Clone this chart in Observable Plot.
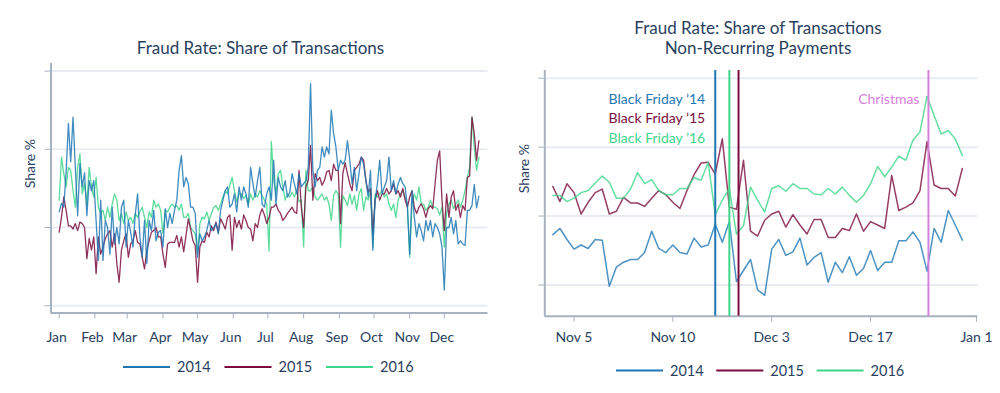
<!DOCTYPE html>
<html><head><meta charset="utf-8">
<script src="https://cdn.jsdelivr.net/npm/d3@7"></script>
<script src="https://cdn.jsdelivr.net/npm/@observablehq/plot@0.6"></script>
<style>
body{margin:0;background:#fff;}
#wrap{display:flex;width:1000px;height:393px;overflow:hidden;}
#wrap svg{flex:none;}
</style></head>
<body><div id="wrap"></div>
<script>
// ---------- shared ----------
const years = ["2014", "2015", "2016"];
const yearColors = ["#1f77b4", "#7b0e3e", "#3fd68a"];
const gridValues = [1, 2, 3, 4];

// ---------- left chart: daily fraud rate, sampled every 2nd day from Jan 1 ----------
const monthStarts = [0, 31, 59, 90, 120, 151, 181, 212, 243, 273, 304, 334];
const monthLabels = ["Jan","Feb","Mar","Apr","May","Jun","Jul","Aug","Sep","Oct","Nov","Dec"];
const sampleStepDays = 2;
const rate2014 = [
2.20,2.31,2.26,2.71,3.33,2.84,3.41,2.77,2.15,2.82,2.52,2.70,2.15,2.60,2.47,2.60,2.09,1.58,2.35,1.58,2.09,2.00,1.66,2.26,1.79,2.00,1.79,2.26,2.35,1.75,2.09,1.94,1.75,2.17,2.43,1.88,1.62,2.09,1.54,2.09,1.96,2.22,1.83,1.94,
1.96,1.75,2.24,2.00,2.18,2.05,2.22,2.35,2.73,2.92,2.52,2.64,2.56,2.26,2.26,2.18,1.62,1.92,1.83,1.88,1.96,2.09,1.96,2.00,2.05,1.92,2.22,2.35,2.47,2.52,2.26,2.30,2.43,2.20,2.52,2.35,2.52,2.43,2.26,2.77,2.56,2.39,2.60,2.77,2.30,2.26,2.43,2.52,2.35,
2.86,2.30,2.64,2.52,2.47,2.60,2.39,2.45,2.69,2.56,2.43,2.69,2.52,2.56,2.60,2.77,3.84,2.73,2.52,2.73,2.77,3.03,2.90,3.03,2.94,3.50,3.20,3.03,2.73,2.86,2.81,2.86,3.11,2.86,2.56,2.77,2.47,2.69,2.90,2.81,2.60,2.39,2.73,1.71,2.35,2.56,2.86,
2.43,2.52,2.60,2.90,2.47,2.60,2.43,2.56,2.64,2.56,2.52,2.26,1.66,2.47,2.13,1.88,2.05,1.96,1.83,2.09,1.96,2.09,1.88,2.05,2.00,1.92,1.75,1.20,2.00,2.00,2.13,1.92,2.09,1.79,1.83,1.79,1.77,2.22,2.22,2.28,2.55,2.25,2.40];
const rate2015 = [
1.94,2.13,2.39,2.22,2.02,2.02,1.98,2.05,1.96,2.07,2.05,2.00,1.60,1.86,1.71,1.88,1.41,1.88,1.66,1.75,1.86,1.92,1.96,1.75,1.92,1.54,1.30,1.71,1.83,1.92,1.62,1.79,1.83,1.96,1.81,1.79,1.62,1.47,1.71,1.83,1.94,1.96,2.00,1.88,
1.88,1.66,1.49,1.79,1.81,1.81,1.81,1.90,1.75,1.88,1.69,1.90,2.11,1.98,1.83,1.77,1.30,1.75,1.83,1.81,1.94,1.88,2.02,1.96,2.07,1.94,2.11,2.05,1.98,2.13,2.16,1.71,2.13,2.00,2.09,1.98,2.16,2.09,2.00,1.98,1.83,2.05,2.00,2.16,2.24,2.16,2.05,2.13,2.26,
2.26,2.30,2.22,2.18,2.09,2.13,2.18,2.22,2.26,2.20,2.18,2.73,2.26,2.00,2.52,2.60,3.05,2.35,2.69,2.60,2.64,2.54,2.60,2.71,2.73,2.60,2.81,2.73,2.73,2.05,2.69,2.83,2.69,2.56,2.47,2.73,2.77,2.81,2.90,2.86,2.60,2.45,2.50,1.92,2.35,2.47,2.35,
2.43,2.43,2.50,2.43,2.47,2.56,2.43,2.47,2.39,2.50,2.35,2.26,2.39,2.47,2.26,2.18,2.26,2.30,2.24,2.13,2.24,2.28,2.24,2.56,2.86,2.98,2.35,1.96,2.43,2.13,2.39,2.47,2.22,2.30,2.13,2.28,2.22,2.64,2.66,3.41,3.20,2.86,3.11];
const rate2016 = [
2.35,2.90,2.69,2.52,2.77,2.73,2.47,2.26,2.77,2.94,2.43,2.56,2.30,2.77,2.52,2.39,2.64,2.26,2.18,2.22,2.09,2.26,2.13,2.30,2.43,2.35,2.09,2.18,2.05,2.20,2.09,2.13,2.05,2.18,2.13,2.20,2.26,2.13,2.00,2.20,2.13,2.35,2.26,2.30,
2.22,1.92,2.22,2.20,2.26,2.30,2.26,2.28,2.22,2.30,2.13,2.13,2.18,2.00,1.96,1.92,1.66,2.05,2.13,2.11,2.20,2.09,2.18,2.26,2.28,2.22,2.30,2.39,2.47,2.43,2.54,2.64,2.47,2.33,2.43,2.43,2.37,2.41,2.30,2.43,2.35,2.43,2.39,2.47,2.41,2.35,2.30,1.70,3.10,
2.60,2.43,2.69,2.73,2.52,2.35,2.43,2.39,2.45,2.39,2.47,2.33,2.35,1.75,2.73,2.47,2.47,2.52,2.39,2.35,2.39,2.43,2.35,2.39,2.30,2.09,2.41,2.47,2.43,1.75,2.41,2.35,2.28,2.43,2.30,2.41,2.22,2.43,2.50,2.22,2.39,2.35,2.47,1.75,2.43,2.39,2.43,
2.47,2.39,2.43,2.30,2.22,2.30,2.13,2.35,2.43,2.47,2.39,2.30,1.62,2.30,2.43,2.35,2.52,2.30,2.30,2.22,2.26,2.35,2.26,2.26,2.24,2.16,2.26,1.75,2.18,2.30,2.35,2.24,2.30,2.35,2.26,2.35,2.47,2.64,2.77,3.41,3.03,2.73,2.90];

// ---------- right chart: non-recurring payments, daily Nov 2 .. Dec 30 (day 0 = Nov 1) ----------
const nrFirstDay = 1;
const nr2014 = [1.73,1.82,1.66,1.52,1.58,1.53,1.66,1.65,0.98,1.26,1.33,1.37,1.37,1.47,1.78,1.53,1.47,1.58,1.47,1.45,1.68,1.55,1.58,1.88,1.62,1.92,1.05,1.21,1.37,0.93,0.85,1.52,1.66,1.43,1.48,1.68,1.29,1.40,1.47,1.04,1.33,1.18,1.41,1.14,1.24,1.50,1.21,1.33,1.33,1.64,1.64,1.77,1.62,1.20,1.82,1.62,2.08,1.87,1.65];
const nr2015 = [2.43,2.21,2.47,2.34,2.03,2.20,2.34,2.39,2.03,2.07,2.27,2.19,2.19,2.14,2.26,2.37,2.31,2.20,2.11,2.37,2.60,2.77,2.78,2.61,3.12,2.13,2.10,2.81,1.78,1.71,1.94,2.03,2.07,1.84,2.02,1.87,1.74,1.95,1.95,1.69,1.69,1.82,1.79,2.03,1.78,1.92,1.87,1.82,2.59,2.08,2.13,2.19,2.37,3.08,2.45,2.40,2.40,2.29,2.69];
const nr2016 = [2.30,2.30,2.21,2.26,2.34,2.37,2.48,2.58,2.49,2.26,2.26,2.39,2.63,2.47,2.53,2.37,2.31,2.31,2.40,2.40,2.56,2.52,2.78,2.02,2.23,2.40,1.74,1.86,2.42,2.23,2.06,2.40,2.44,2.36,2.47,2.40,2.40,2.32,2.31,2.40,2.32,2.42,2.30,2.20,2.30,2.47,2.72,2.57,2.71,2.87,2.81,3.10,3.22,3.74,3.46,3.19,3.24,3.12,2.88];
const nrTickDays = [4, 18, 32, 46, 61];
const nrTickLabels = ["Nov 5", "Nov 10", "Dec 3", "Dec 17", "Jan 1"];
const eventNames = ["Black Friday \u201914", "Black Friday \u201915", "Black Friday \u201916", "Christmas"];
const eventDays = [24, 27.3, 26, 54.2];
const eventColors = ["#1f77b4", "#7b0e3e", "#3fd68a", "#d77fdc"];

// ---------- styling ----------
const textColor = "#2a3f5f";
const axisColor = "#a7b2c0";
const gridColor = "#e8ecf2";
const font = "Lato, 'Open Sans', sans-serif";

function toRows(values, x0, step) {
  return values.map((v, i) => ({x: x0 + i * step, v}));
}
function baseMarks(xDomain, yDomain) {
  return [
    Plot.gridY(gridValues, {stroke: gridColor, strokeOpacity: 1, strokeWidth: 2}),
    Plot.ruleY([yDomain[0]], {stroke: axisColor, strokeWidth: 2}),
    Plot.ruleX([xDomain[0]], {stroke: axisColor, strokeWidth: 2}),
    Plot.axisY(gridValues, {tickSize: 6, tickFormat: () => "", stroke: axisColor, label: null}),
    Plot.text(["Share %"], {text: d => d, frameAnchor: "left", dx: -20, rotate: -90, fill: textColor, fontSize: 14})
  ];
}
function addTitle(svg, lines, cx, y0, lh) {
  const s = d3.select(svg);
  lines.forEach((t, i) => s.append("text").attr("x", cx).attr("y", y0 + i * lh)
    .attr("text-anchor", "middle").attr("fill", textColor)
    .attr("font-family", font).attr("font-size", 17).text(t));
}
function addLegend(svg, x0, spacing, y) {
  const s = d3.select(svg);
  years.forEach((yr, i) => {
    const x = x0 + i * spacing;
    s.append("line").attr("x1", x).attr("x2", x + 47).attr("y1", y).attr("y2", y)
      .attr("stroke", yearColors[i]).attr("stroke-width", 2.2);
    s.append("text").attr("x", x + 54).attr("y", y).attr("dy", "0.35em")
      .attr("text-anchor", "start")
      .attr("fill", textColor).attr("font-family", font).attr("font-size", 14.5).text(yr);
  });
}

const wrap = document.getElementById("wrap");

// ---------- left ----------
const lxDomain = [-7.1, 371.9];
const lyDomain = [0.907, 4.097];
const leftSeries = [rate2014, rate2015, rate2016].map(a => toRows(a, 0, sampleStepDays));
const left = Plot.plot({
  width: 500, height: 393,
  marginLeft: 50.5, marginRight: 12.5, marginTop: 63, marginBottom: 80.5,
  style: {fontFamily: font, fontSize: "14px", color: textColor, background: "white"},
  x: {domain: lxDomain, label: null},
  y: {domain: lyDomain, label: null},
  marks: [
    ...baseMarks(lxDomain, lyDomain),
    Plot.axisX(monthStarts, {tickSize: 6, tickFormat: () => "", stroke: axisColor, label: null}),
    Plot.axisX(monthStarts, {tickSize: 0, tickPadding: 19, dx: -2.5, tickFormat: d => monthLabels[monthStarts.indexOf(d)], fill: textColor, fontSize: 14, label: null}),
    Plot.line(leftSeries[2], {x: "x", y: "v", stroke: yearColors[2], strokeWidth: 1.3, strokeOpacity: 0.85}),
    Plot.line(leftSeries[1], {x: "x", y: "v", stroke: yearColors[1], strokeWidth: 1.3, strokeOpacity: 0.85}),
    Plot.line(leftSeries[0], {x: "x", y: "v", stroke: yearColors[0], strokeWidth: 1.3, strokeOpacity: 0.85})
  ]
});
addTitle(left, ["Fraud Rate: Share of Transactions"], 260.5, 54.3, 18);
addLegend(left, 123, 101.5, 367);
wrap.appendChild(left);

// ---------- right ----------
const rxDomain = [-0.14, 61.19];
const ryDomain = [0.547, 4.112];
const rightSeries = [nr2014, nr2015, nr2016].map(a => toRows(a, nrFirstDay, 1));
const right = Plot.plot({
  width: 500, height: 393,
  marginLeft: 44.3, marginRight: 22.7, marginTop: 70, marginBottom: 77.3,
  style: {fontFamily: font, fontSize: "14px", color: textColor, background: "white"},
  x: {domain: rxDomain, label: null},
  y: {domain: ryDomain, label: null},
  marks: [
    ...baseMarks(rxDomain, ryDomain),
    Plot.axisX(nrTickDays, {tickSize: 6, tickPadding: 10, tickFormat: d => nrTickLabels[nrTickDays.indexOf(d)], stroke: axisColor, fill: textColor, fontSize: 14, label: null}),
    Plot.line(rightSeries[0], {x: "x", y: "v", stroke: yearColors[0], strokeWidth: 1.5, strokeOpacity: 0.8}),
    Plot.line(rightSeries[1], {x: "x", y: "v", stroke: yearColors[1], strokeWidth: 1.5, strokeOpacity: 0.8}),
    Plot.line(rightSeries[2], {x: "x", y: "v", stroke: yearColors[2], strokeWidth: 1.5, strokeOpacity: 0.8}),
    ...eventDays.map((d, i) => Plot.ruleX([d], {stroke: eventColors[i], strokeWidth: 2})),
    ...[0, 1, 2].map(r => Plot.text([eventNames[r]], {text: d => d, x: eventDays[0], frameAnchor: "top", dy: 23.8 + r * 19.2, dx: -10, textAnchor: "end", fill: eventColors[r], fontSize: 14})),
    Plot.text([eventNames[3]], {text: d => d, x: eventDays[3], frameAnchor: "top", dy: 23.8, dx: -9, textAnchor: "end", fill: eventColors[3], fontSize: 14})
  ]
});
addTitle(right, ["Fraud Rate: Share of Transactions", "Non-Recurring Payments"], 258, 33.5, 20);
addLegend(right, 116, 100.3, 370.5);
wrap.appendChild(right);
</script>
</body></html>
